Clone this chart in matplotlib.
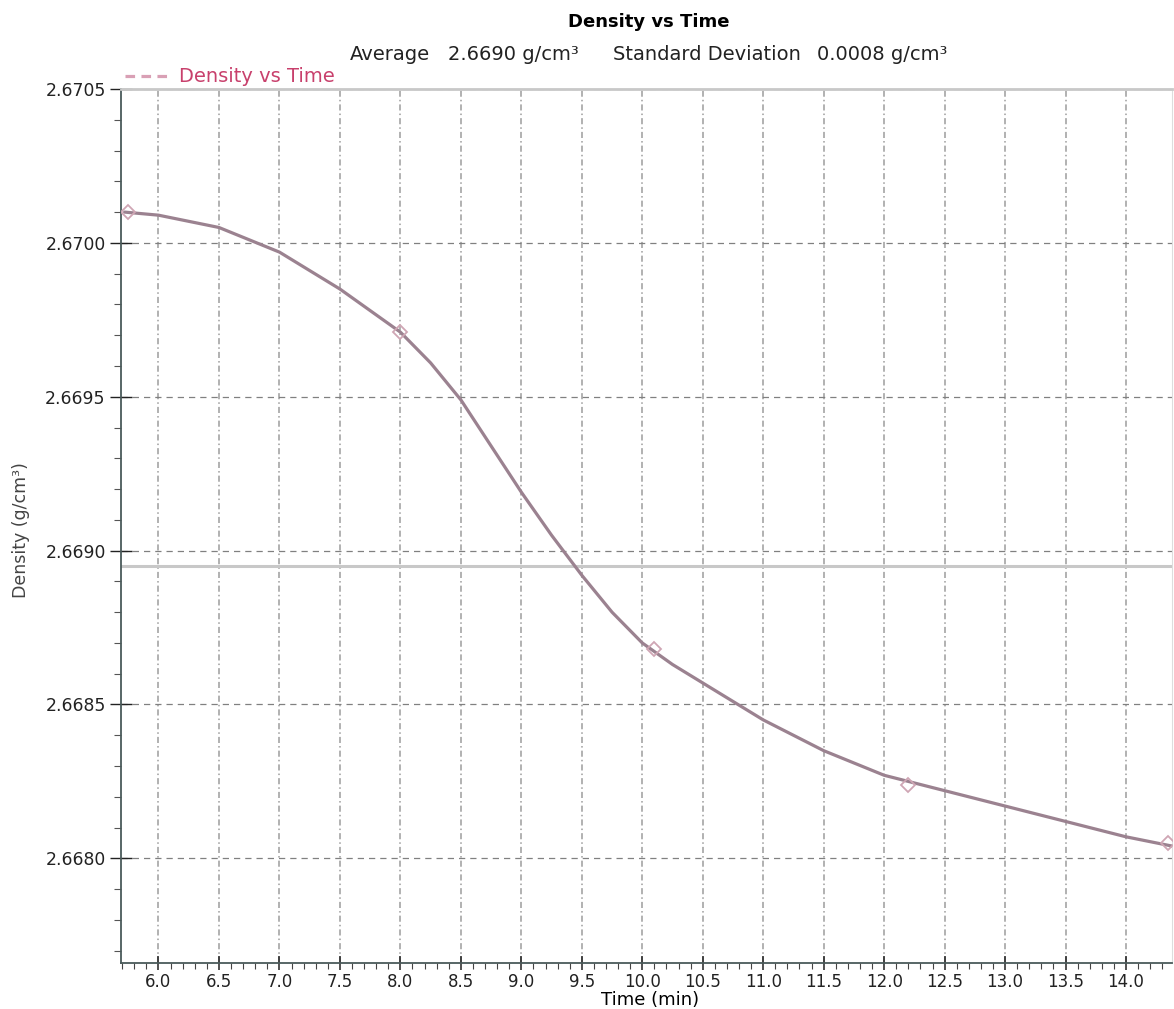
import matplotlib
matplotlib.use("Agg")
import matplotlib.pyplot as plt
from matplotlib.ticker import MultipleLocator, FormatStrFormatter

plt.rcParams['font.family'] = ['DejaVu Sans']

# Curve
time_min = [5.72, 6.0, 6.5, 7.0, 7.5, 7.75, 8.0, 8.25, 8.5, 8.75, 9.0, 9.25,
            9.5, 9.75, 10.0, 10.25, 10.5, 11.0, 11.5, 12.0, 12.5, 13.0, 13.5,
            14.0, 14.38]
density = [2.67010, 2.67009, 2.67005, 2.66997, 2.66985, 2.66978, 2.66971,
           2.66961, 2.66949, 2.66934, 2.66919, 2.66905, 2.66892, 2.66880,
           2.66870, 2.66863, 2.66857, 2.66845, 2.66835, 2.66827, 2.66822,
           2.66817, 2.66812, 2.66807, 2.66804]
# Measured points (markers)
meas_time = [5.75, 8.0, 10.1, 12.2, 14.35]
meas_density = [2.67010, 2.66971, 2.66868, 2.66824, 2.66805]

average = 2.66895
title = "Density vs Time"
avg_label = "Average"
avg_value = "2.6690 g/cm\u00b3"
sd_label = "Standard Deviation"
sd_value = "0.0008 g/cm\u00b3"

W, H = 1174, 1009
fig = plt.figure(figsize=(W / 100, H / 100), dpi=100)
ax = fig.add_axes([121 / W, (H - 963) / H, (1172 - 121) / W, (963 - 89) / H])

ax.set_xlim(5.69, 14.38)
ax.set_ylim(2.66766, 2.6705)

ax.xaxis.set_major_locator(MultipleLocator(0.5))
ax.xaxis.set_minor_locator(MultipleLocator(0.1))
ax.yaxis.set_major_locator(MultipleLocator(0.0005))
ax.yaxis.set_minor_locator(MultipleLocator(0.0001))
ax.xaxis.set_major_formatter(FormatStrFormatter('%.1f'))
ax.yaxis.set_major_formatter(FormatStrFormatter('%.4f'))

# grid
ax.grid(which='major', axis='x', color='#9c9c9c', linestyle=(0, (4, 2, 1, 2)), linewidth=1.1)
ax.grid(which='major', axis='y', color='#808080', linestyle=(0, (5, 4)), linewidth=0.9)

ax.axhline(average, color='#c8c8c8', linewidth=2.2, zorder=2)

ax.plot(time_min, density, color='#9b8290', linewidth=2.3, zorder=3,
        label='Density vs Time', linestyle='-', solid_capstyle='round',
        solid_joinstyle='round')
ax.plot(meas_time, meas_density, linestyle='none', marker='D', markersize=7,
        markerfacecolor='none', markeredgecolor='#cfa6b4', markeredgewidth=1.3, zorder=4)

ax.tick_params(axis='both', which='major', colors='#222222')
ax.tick_params(axis='x', which='major', direction='inout', length=10, width=1.1,
               labelsize=12, pad=2)
ax.tick_params(axis='x', which='minor', direction='out', length=4, width=0.8, color='#444444')
ax.tick_params(axis='y', which='major', direction='inout', length=16, width=1.0,
               labelsize=12.4, pad=3)
ax.tick_params(axis='y', which='minor', direction='out', length=5, width=0.8, color='#555555')

for s in ['left', 'bottom']:
    ax.spines[s].set_color('#4a5a5a')
    ax.spines[s].set_linewidth(1.3)
ax.spines['top'].set_color('#c8c8c8')
ax.spines['top'].set_linewidth(2)
ax.spines['right'].set_color('#dddddd')

ax.set_xlabel('Time (min)', fontsize=13)
ax.xaxis.set_label_coords((650 - 121) / (1172 - 121), (963 - 1000) / (963 - 89))
ax.xaxis.label.set_va('center')
ax.set_ylabel('Density (g/cm\u00b3)', fontsize=12.5, color='#444444')
ax.yaxis.set_label_coords((21 - 121) / (1172 - 121), (963 - 530) / (963 - 89))
ax.yaxis.label.set_va('center')

fig.text(649 / W, 1 - 27 / H, title, ha='center', va='baseline', fontsize=13, fontweight='bold')
fig.text(350 / W, 1 - 60 / H, avg_label, ha='left', va='baseline', fontsize=14, color='#222222')
fig.text(448 / W, 1 - 60 / H, avg_value, ha='left', va='baseline', fontsize=14, color='#222222')
fig.text(613 / W, 1 - 60 / H, sd_label, ha='left', va='baseline', fontsize=14, color='#222222')
fig.text(817 / W, 1 - 60 / H, sd_value, ha='left', va='baseline', fontsize=14, color='#222222')

leg = ax.legend(loc='center left', bbox_to_anchor=(125 / W, 1 - 77 / H),
                bbox_transform=fig.transFigure, frameon=False,
                fontsize=14, handlelength=2.4, handletextpad=0.4,
                borderaxespad=0, borderpad=0)
for t in leg.get_texts():
    t.set_color('#c8406c')
leg.get_lines()[0].set_color('#d9a0b5')
leg.get_lines()[0].set_linestyle((0, (3, 2)))

fig.savefig('out.png', dpi=100, facecolor='white')
